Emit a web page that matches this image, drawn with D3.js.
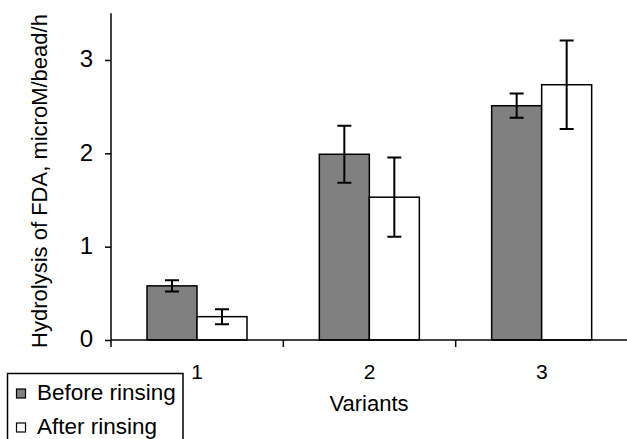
<!DOCTYPE html>
<html>
<head>
<meta charset="utf-8">
<script src="https://cdn.jsdelivr.net/npm/d3@7"></script>
<style>
  body { margin: 0; background: #fff; }
  text { font-family: "Liberation Sans", Arial, sans-serif; fill: #000; }
</style>
</head>
<body>
<div id="wrapper"></div>
<script>
// data
const variants = ["1", "2", "3"]
const seriesNames = ["Before rinsing", "After rinsing"]
const beforeValues = [0.58, 1.99, 2.51]
const beforeErrors = [0.06, 0.305, 0.13]
const afterValues = [0.25, 1.53, 2.735]
const afterErrors = [0.08, 0.425, 0.475]
const yTicks = [0, 1, 2, 3]

const colors = ["#808080", "#ffffff"]

const width = 627
const height = 439
const margin = { top: 13, right: 0, bottom: 99, left: 111 }

const svg = d3.select("#wrapper")
  .append("svg")
  .attr("width", width)
  .attr("height", height)

// scales
const xScale = d3.scaleBand()
  .domain(variants)
  .range([margin.left, width + 1])
  .padding(0)

const innerScale = d3.scaleBand()
  .domain(seriesNames)
  .range([36, 136])

const yScale = d3.scaleLinear()
  .domain([0, 3.5])
  .range([height - margin.bottom, margin.top + 0.33])

const rows = []
variants.forEach((v, i) => {
  rows.push({ variant: v, series: seriesNames[0], value: beforeValues[i], err: beforeErrors[i], color: colors[0] })
  rows.push({ variant: v, series: seriesNames[1], value: afterValues[i], err: afterErrors[i], color: colors[1] })
})

// bars
svg.append("g")
  .selectAll("rect")
  .data(rows)
  .join("rect")
    .attr("x", d => xScale(d.variant) + innerScale(d.series))
    .attr("y", d => yScale(d.value))
    .attr("width", innerScale.bandwidth())
    .attr("height", d => yScale(0) - yScale(d.value))
    .attr("fill", d => d.color)
    .attr("stroke", "#000")
    .attr("stroke-width", 1.5)

// error bars
const errG = svg.append("g")
  .attr("stroke", "#000")
  .attr("stroke-width", 2)
  .attr("fill", "none")

errG.selectAll("path")
  .data(rows)
  .join("path")
    .attr("d", d => {
      const cx = xScale(d.variant) + innerScale(d.series) + innerScale.bandwidth() / 2
      const y1 = yScale(d.value + d.err)
      const y2 = yScale(d.value - d.err)
      return `M${cx - 7},${y1}H${cx + 7}M${cx},${y1}V${y2}M${cx - 7},${y2}H${cx + 7}`
    })

// axes
const xAxis = svg.append("g")
  .attr("transform", `translate(0, ${yScale(0)})`)
  .call(d3.axisBottom(xScale).tickSize(0).tickPadding(24))

xAxis.select(".domain")
  .attr("d", `M${margin.left},0H${width}`)
  .attr("stroke-width", 1.5)

xAxis.selectAll(".tick text")
  .style("font-size", "21px")
  .attr("dy", "0.71em")

// ticks between categories
xAxis.selectAll(".boundary")
  .data(variants)
  .join("line")
    .attr("class", "boundary")
    .attr("x1", d => xScale(d))
    .attr("x2", d => xScale(d))
    .attr("y1", 0)
    .attr("y2", 7)
    .attr("stroke", "#000")
    .attr("stroke-width", 1.5)

const yAxis = svg.append("g")
  .attr("transform", `translate(${margin.left}, 0)`)
  .call(d3.axisLeft(yScale).tickValues(yTicks).tickFormat(d3.format("d")).tickSize(6).tickPadding(12))

yAxis.select(".domain")
  .attr("d", `M0,${yScale(3.5)}V${yScale(0)}`)
  .attr("stroke-width", 1.5)

yAxis.selectAll(".tick line").attr("stroke-width", 1.5)
yAxis.selectAll(".tick text")
  .style("font-size", "24px")
  .attr("dy", "0.28em")

// axis titles
svg.append("text")
  .attr("transform", `translate(47, 181) rotate(-90)`)
  .attr("text-anchor", "middle")
  .style("font-size", "22px")
  .text("Hydrolysis of FDA, microM/bead/h")

svg.append("text")
  .attr("x", (margin.left + width) / 2)
  .attr("y", 411)
  .attr("text-anchor", "middle")
  .style("font-size", "22px")
  .text("Variants")

// legend
const legend = svg.append("g")

legend.append("rect")
  .attr("x", 7.5)
  .attr("y", 373.5)
  .attr("width", 175.5)
  .attr("height", 80)
  .attr("fill", "#fff")
  .attr("stroke", "#000")
  .attr("stroke-width", 1.5)

const legendItems = legend.selectAll(".item")
  .data(seriesNames)
  .join("g")
    .attr("class", "item")
    .attr("transform", (d, i) => `translate(0, ${400 + i * 34})`)

legendItems.append("rect")
  .attr("x", 16.5)
  .attr("y", -11)
  .attr("width", 9)
  .attr("height", 9)
  .attr("fill", (d, i) => colors[i])
  .attr("stroke", "#000")
  .attr("stroke-width", 1.2)

legendItems.append("text")
  .attr("x", 37)
  .attr("y", 0)
  .style("font-size", "22.5px")
  .text(d => d)
</script>
</body>
</html>
